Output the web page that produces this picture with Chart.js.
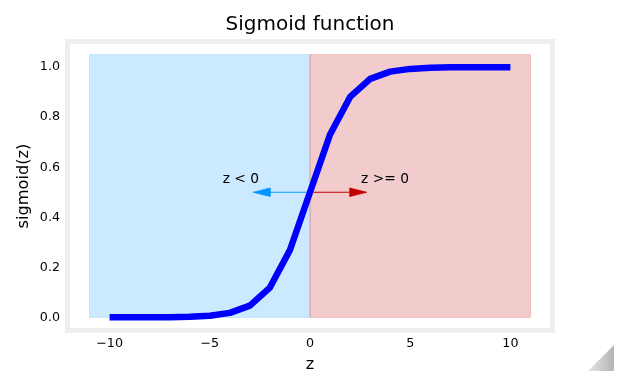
<!DOCTYPE html>
<html><head><meta charset="utf-8">
<script src="https://cdn.jsdelivr.net/npm/chart.js@4/dist/chart.umd.min.js"></script>
<style>
html,body{margin:0;padding:0;background:#fff;}
#wrap{position:relative;width:629px;height:383px;}
#corner{position:absolute;left:588px;top:345px;width:26px;height:26px;background:linear-gradient(to right,#e6e6e6,#b4b4b4);clip-path:polygon(100% 0,100% 100%,0 100%);}
</style></head><body>
<div id="wrap"><canvas id="c" width="629" height="383"></canvas><div id="corner"></div></div>
<script>
// ---- data ----
const zValues = [-10,-9,-8,-7,-6,-5,-4,-3,-2,-1,0,1,2,3,4,5,6,7,8,9,10];
const sigmoidValues = [0.00005,0.0001,0.0003,0.0009,0.0025,0.0067,0.018,0.047,0.119,0.269,0.5,0.731,0.881,0.953,0.982,0.993,0.9975,0.9991,0.9997,0.9999,0.99995];
const xTickValues = [-10,-5,0,5,10];
const yTickValues = [0,0.2,0.4,0.6,0.8,1.0];
const negRegion = [-11, 0];
const posRegion = [0, 11];
const regionYRange = [0, 1.05];
const thresholdZ = 0;
const arrowY = 0.5;
const arrowLength = 3;
const xLimits = [-12.1, 12.1];
const yLimits = [-0.0525, 1.1025];
const negLabel = 'z < 0';
const posLabel = 'z >= 0';

const FONT = 'DejaVu Sans';
const BLUE = '0,150,255';
const RED = '192,0,0';

const decorPlugin = {
  id: 'decor',
  afterLayout(chart) {
    // centre the title over the plotting area, as matplotlib does
    const t = chart.titleBlock, a = chart.chartArea;
    if (t && a) { t.left = a.left; t.right = a.right; t.width = a.right - a.left; }
  },
  beforeDatasetsDraw(chart) {
    const ctx = chart.ctx, xs = chart.scales.x, ys = chart.scales.y;
    ctx.save();
    const y0 = ys.getPixelForValue(regionYRange[0]);
    const y1 = ys.getPixelForValue(regionYRange[1]);
    [[negRegion, BLUE], [posRegion, RED]].forEach(([r, c]) => {
      const x0 = xs.getPixelForValue(r[0]);
      const x1 = xs.getPixelForValue(r[1]);
      ctx.fillStyle = 'rgba(' + c + ',0.2)';
      ctx.fillRect(x0, y1, x1 - x0, y0 - y1);
      ctx.strokeStyle = 'rgba(' + c + ',0.2)';
      ctx.lineWidth = 1;
      ctx.strokeRect(x0, y1, x1 - x0, y0 - y1);
    });
    // arrows
    const py = ys.getPixelForValue(arrowY);
    const px0 = xs.getPixelForValue(thresholdZ);
    const shrink = 3.4, headLen = 17, headHalf = 4.3;
    [[thresholdZ - arrowLength, 'rgb(' + BLUE + ')'], [thresholdZ + arrowLength, 'rgb(' + RED + ')']].forEach(([xe, col]) => {
      const pe = xs.getPixelForValue(xe);
      const dir = Math.sign(pe - px0);
      const start = px0 + dir * shrink;
      const tip = pe - dir * shrink;
      const base = tip - dir * headLen;
      ctx.strokeStyle = col;
      ctx.fillStyle = col;
      ctx.lineWidth = 1.1;
      ctx.beginPath();
      ctx.moveTo(start, py);
      ctx.lineTo(base, py);
      ctx.stroke();
      ctx.beginPath();
      ctx.moveTo(tip, py);
      ctx.lineTo(base, py - headHalf);
      ctx.lineTo(base, py + headHalf);
      ctx.closePath();
      ctx.fill();
      ctx.lineWidth = 0.8;
      ctx.stroke();
    });
    ctx.restore();
  },
  afterDatasetsDraw(chart) {
    const ctx = chart.ctx, xs = chart.scales.x, ys = chart.scales.y, a = chart.chartArea;
    ctx.save();
    // frame
    ctx.strokeStyle = '#eeeeee';
    ctx.lineWidth = 5;
    ctx.strokeRect(a.left, a.top, a.right - a.left, a.bottom - a.top);
    // annotations
    const px = xs.getPixelForValue(thresholdZ);
    const py = ys.getPixelForValue(arrowY);
    ctx.fillStyle = '#000';
    ctx.font = '13.8px "' + FONT + '"';
    ctx.textBaseline = 'alphabetic';
    ctx.textAlign = 'left';
    ctx.fillText(negLabel, px - 87.3, py - 8.8);
    ctx.fillText(posLabel, px + 51, py - 8.8);
    ctx.restore();
  }
};

new Chart(document.getElementById('c'), {
  type: 'scatter',
  data: {
    datasets: [{
      data: zValues.map((z, i) => ({x: z, y: sigmoidValues[i]})),
      showLine: true,
      borderColor: '#0000ff',
      backgroundColor: '#0000ff',
      borderWidth: 6.5,
      borderCapStyle: 'butt',
      borderJoinStyle: 'round',
      pointRadius: 0,
      tension: 0
    }]
  },
  options: {
    responsive: false,
    animation: false,
    devicePixelRatio: 1,
    layout: {padding: {left: 0, right: 76.5, top: 0, bottom: 0}},
    plugins: {
      legend: {display: false},
      tooltip: {enabled: false},
      title: {
        display: true, text: 'Sigmoid function', color: '#000',
        font: {family: FONT, size: 20, weight: 'normal'},
        padding: {top: 12.8, bottom: 4.7}
      }
    },
    scales: {
      x: {
        type: 'linear', min: xLimits[0], max: xLimits[1],
        grid: {display: false, drawTicks: false},
        border: {display: false},
        ticks: {
          color: '#000', font: {family: FONT, size: 12.7}, padding: 6, maxRotation: 0,
          callback: v => v < 0 ? '\u2212' + Math.abs(v) : String(v)
        },
        afterBuildTicks: s => { s.ticks = xTickValues.map(v => ({value: v})); },
        afterFit: s => { s.height = 52.5; },
        title: {display: true, text: 'z', color: '#000', font: {family: FONT, size: 16.2}, padding: {top: 0, bottom: 8.4}}
      },
      y: {
        type: 'linear', min: yLimits[0], max: yLimits[1],
        grid: {display: false, drawTicks: false},
        border: {display: false},
        ticks: {
          color: '#000', font: {family: FONT, size: 12.7}, padding: 7.5,
          callback: v => Number(v).toFixed(1)
        },
        afterBuildTicks: s => { s.ticks = yTickValues.map(v => ({value: v})); },
        afterFit: s => { s.width = 67.5; },
        title: {display: true, text: 'sigmoid(z)', color: '#000', font: {family: FONT, size: 16.2}, padding: {top: 13.9, bottom: 0}}
      }
    }
  },
  plugins: [decorPlugin]
});
</script>
</body></html>
